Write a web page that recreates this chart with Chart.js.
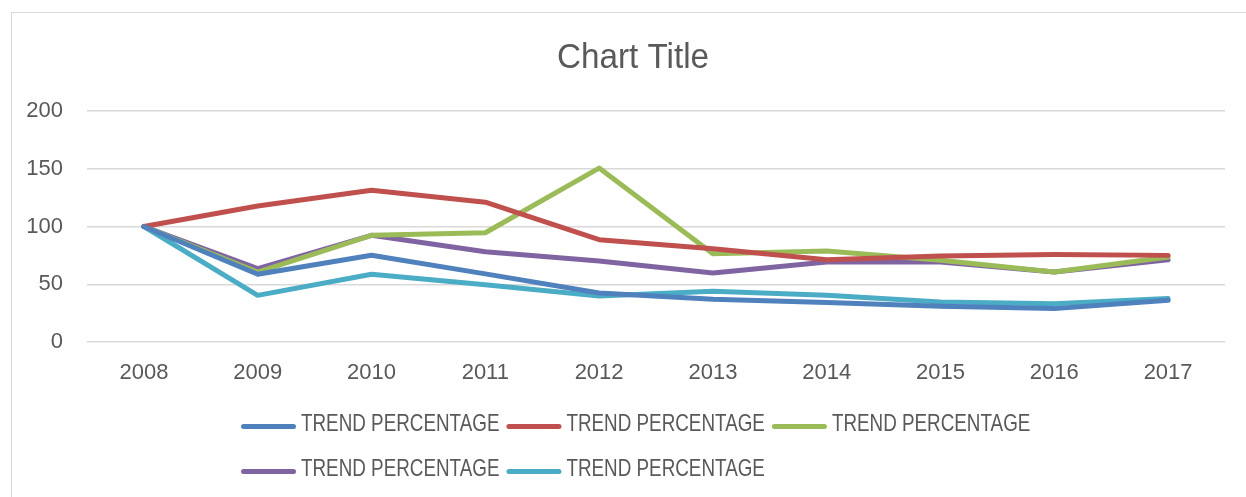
<!DOCTYPE html>
<html>
<head>
<meta charset="utf-8">
<title>Chart Title</title>
<script src="https://cdn.jsdelivr.net/npm/chart.js@4.4.1/dist/chart.umd.min.js"></script>
<style>
    body { margin: 0; background: #fff; }
    #wrap { position: relative; width: 1246px; height: 497px; overflow: hidden; }
    #frame { position: absolute; left: 11px; top: 12px; width: 1300px; height: 600px; border: 1px solid #d9d9d9; }
    #chart { position: absolute; left: 0; top: 0; }
</style>
</head>
<body>
<div id="wrap">
    <div id="frame"></div>
    <canvas id="chart" width="1246" height="497"></canvas>
</div>
<script>
// Chart data
const years = ['2008', '2009', '2010', '2011', '2012', '2013', '2014', '2015', '2016', '2017'];
const seriesBlue   = [100, 58.6, 75.1, 59, 42.4, 37, 34.1, 30.9, 28.9, 36.1];
const seriesRed    = [100, 117.7, 131.3, 121, 88.6, 80.8, 71.3, 74.5, 75.7, 75];
const seriesGreen  = [100, 60.6, 92.4, 94.6, 150.6, 76.5, 78.8, 70.7, 60.6, 73.6];
const seriesPurple = [100, 63.5, 92.4, 78.2, 70.1, 59.7, 69.3, 69.3, 60.6, 71.3];
const seriesCyan   = [100, 40.4, 58.6, 49.5, 39.8, 43.9, 40.4, 34.6, 33.2, 37.6];
const seriesLabel = 'TREND PERCENTAGE';
const chartTitle = 'Chart Title';
const yTicks = [0, 50, 100, 150, 200];

const fontFamily = '"Liberation Sans", Arial, sans-serif';
const textColor = '#595959';

function makeSeries(data, color) {
    return {
        label: seriesLabel,
        data: data,
        borderColor: color,
        backgroundColor: color,
        borderWidth: 5,
        pointRadius: 0,
        pointHoverRadius: 0,
        tension: 0,
        borderCapStyle: 'round',
        borderJoinStyle: 'round'
    };
}

// Title + Excel-style legend (rows share the same left edge, narrow type)
const excelPlugin = {
    id: 'excelDecor',
    afterDraw(chart) {
        const ctx = chart.ctx;
        ctx.save();

        // title
        ctx.fillStyle = textColor;
        ctx.font = '35px ' + fontFamily;
        ctx.textAlign = 'center';
        ctx.textBaseline = 'alphabetic';
        ctx.save();
        ctx.translate(633, 68);
        ctx.scale(0.95, 1);
        ctx.fillText(chartTitle, 0, 0);
        ctx.restore();

        // legend
        const startX = 241;
        const rows = [426, 471];
        const perRow = 3;
        const squeeze = 0.795;
        ctx.font = '23.7px ' + fontFamily;
        ctx.textAlign = 'left';
        ctx.textBaseline = 'middle';
        chart.data.datasets.forEach(function(ds, i) {
            const row = Math.floor(i / perRow);
            const col = i % perRow;
            const textW = ctx.measureText(ds.label).width * squeeze;
            const itemW = 55 + 5 + textW + 7;
            const x = startX + col * itemW;
            const y = rows[row];
            ctx.strokeStyle = ds.borderColor;
            ctx.lineWidth = 5;
            ctx.lineCap = 'round';
            ctx.beginPath();
            ctx.moveTo(x + 2.5, y + 0.5);
            ctx.lineTo(x + 52.5, y + 0.5);
            ctx.stroke();
            ctx.save();
            ctx.translate(x + 60, y - 2);
            ctx.scale(squeeze, 1);
            ctx.fillStyle = textColor;
            ctx.fillText(ds.label, 0, 0);
            ctx.restore();
        });
        ctx.restore();
    }
};

function initializeChart() {
    const ctx = document.getElementById('chart');
    new Chart(ctx, {
        type: 'line',
        data: {
            labels: years,
            datasets: [
                makeSeries(seriesBlue, '#4F81BD'),
                makeSeries(seriesRed, '#C0504D'),
                makeSeries(seriesGreen, '#9BBB59'),
                makeSeries(seriesPurple, '#8064A2'),
                makeSeries(seriesCyan, '#4BACC6')
            ]
        },
        options: {
            responsive: false,
            animation: false,
            events: [],
            layout: {
                padding: { left: 20, right: 21, top: 111, bottom: 113 }
            },
            scales: {
                y: {
                    min: 0,
                    max: 200,
                    afterBuildTicks: function(scale) {
                        scale.ticks = yTicks.map(function(v) { return { value: v }; });
                    },
                    afterFit: function(scale) { scale.width = 67; },
                    grid: { color: '#d9d9d9', lineWidth: 1.5, drawTicks: false },
                    border: { display: false },
                    ticks: {
                        color: textColor,
                        font: { family: fontFamily, size: 22 },
                        padding: 24
                    }
                },
                x: {
                    offset: true,
                    afterFit: function(scale) { scale.height = 42; },
                    grid: { display: false, drawTicks: false },
                    border: { display: false },
                    ticks: {
                        color: textColor,
                        font: { family: fontFamily, size: 22 },
                        padding: 18,
                        maxRotation: 0
                    }
                }
            },
            plugins: {
                legend: { display: false },
                tooltip: { enabled: false },
                title: { display: false }
            }
        },
        plugins: [excelPlugin]
    });
}

document.addEventListener('DOMContentLoaded', function() {
    initializeChart();
});
</script>
</body>
</html>
